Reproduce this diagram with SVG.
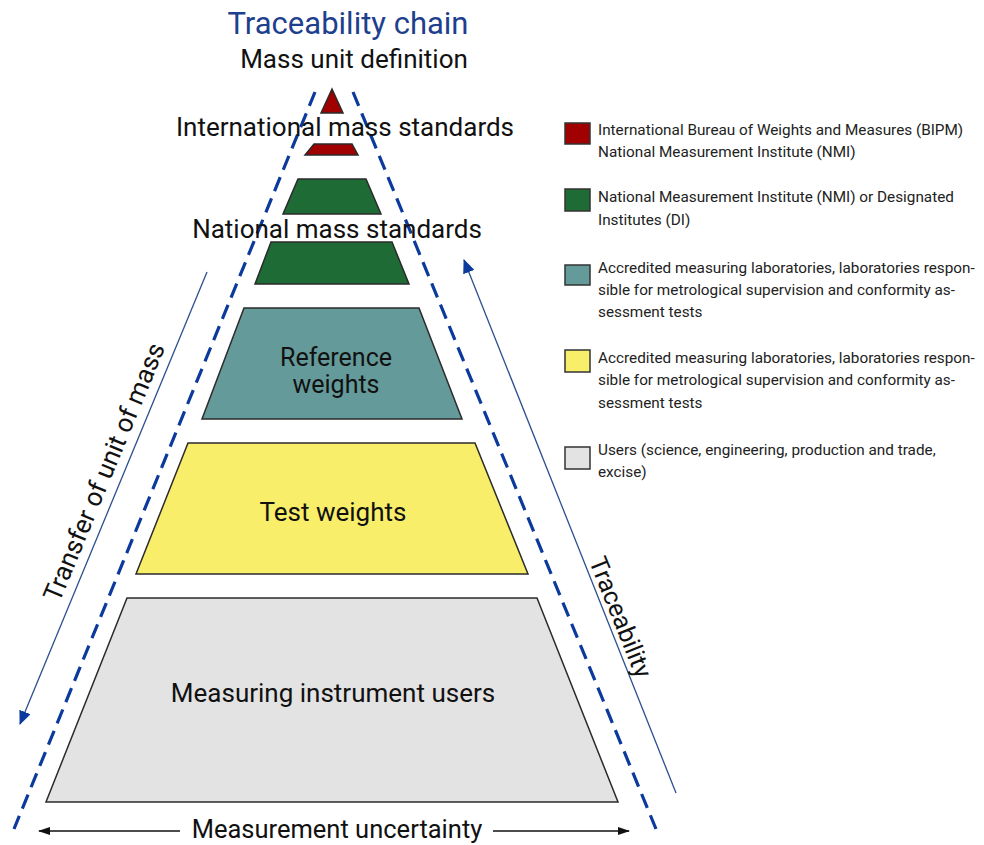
<svg xmlns="http://www.w3.org/2000/svg" width="984" height="845" viewBox="0 0 984 845">
<defs>
<style>
.lbl{font-family:Roboto,"Liberation Sans",sans-serif;fill:#111;text-anchor:middle}
.big{font-size:26px}
.leg{font-family:Roboto,"Liberation Sans",sans-serif;font-size:15.3px;fill:#222}
.tier{stroke:#2b2b2b;stroke-width:1.5;stroke-linejoin:miter}
.dash{fill:none;stroke:#0b3a9c;stroke-width:3.2;stroke-dasharray:15 8}
.thin{fill:none;stroke:#2c4f8f;stroke-width:1.3}
.blk{fill:none;stroke:#111;stroke-width:1.5}
.box{stroke:#333;stroke-width:1.5}
</style>
<marker id="ab" viewBox="0 0 14 12" refX="13" refY="6" markerWidth="14" markerHeight="12" markerUnits="userSpaceOnUse" orient="auto">
<path d="M0,0 L14,6 L0,12 Z" fill="#0b3a9c"/>
</marker>
<marker id="ak" viewBox="0 0 12 8" refX="11" refY="4" markerWidth="12" markerHeight="8" markerUnits="userSpaceOnUse" orient="auto">
<path d="M0,0 L12,4 L0,8 Z" fill="#111"/>
</marker>
</defs>
<rect width="984" height="845" fill="#ffffff"/>

<g id="connectors">
<line class="dash" x1="315" y1="92" x2="14" y2="829"/>
<line class="dash" x1="353" y1="92" x2="656" y2="829"/>
<line class="thin" x1="207" y1="272" x2="20" y2="724" marker-end="url(#ab)"/>
<line class="thin" x1="676" y1="793" x2="464" y2="260" marker-end="url(#ab)"/>
<line class="blk" x1="180" y1="831" x2="39" y2="831" marker-end="url(#ak)"/>
<line class="blk" x1="493" y1="831" x2="629" y2="831" marker-end="url(#ak)"/>
</g>

<g id="title">
<text class="lbl" x="348" y="34" style="font-size:31px;fill:#1e3f8e">Traceability chain</text>
</g>

<g id="mass-unit-definition">
<path class="tier" d="M332,89 L343,113 L321,113 Z" fill="#a00000"/>
<text class="lbl big" x="354" y="68">Mass unit definition</text>
</g>

<g id="international-mass-standards">
<path class="tier" d="M314,144 L352,144 L358,155 L305,155 Z" fill="#a00000"/>
<text class="lbl big" x="345" y="136">International mass standards</text>
</g>

<g id="national-mass-standards">
<path class="tier" d="M298,179 L366,179 L381,214 L283,214 Z" fill="#1e6b35"/>
<path class="tier" d="M271,242 L392,242 L409,284 L255,284 Z" fill="#1e6b35"/>
<text class="lbl big" x="337" y="238">National mass standards</text>
</g>

<g id="reference-weights">
<path class="tier" d="M244,308 L419,308 L462,419 L202,419 Z" fill="#659a9a"/>
<text class="lbl" style="font-size:25px" x="336" y="366">Reference</text>
<text class="lbl" style="font-size:25px" x="336" y="393">weights</text>
</g>

<g id="test-weights">
<path class="tier" d="M188,443 L475,443 L528,574 L136,574 Z" fill="#f8ee6a"/>
<text class="lbl big" x="333" y="521">Test weights</text>
</g>

<g id="measuring-instrument-users">
<path class="tier" d="M127,598 L537,598 L618,802 L46,802 Z" fill="#e3e3e3"/>
<text class="lbl big" x="333" y="702">Measuring instrument users</text>
</g>

<g id="side-labels">
<text class="lbl big" transform="translate(104,472) rotate(-67.5)" y="9">Transfer of unit of mass</text>
<text class="lbl" style="font-size:25px" transform="translate(621,617) rotate(68)" y="9">Traceability</text>
<text class="lbl" style="font-size:25.5px" x="337" y="838">Measurement uncertainty</text>
</g>

<g id="legend">
<rect class="box" x="565" y="123" width="25" height="21" fill="#a00000"/>
<text class="leg" x="598" y="135">International Bureau of Weights and Measures (BIPM)</text>
<text class="leg" x="598" y="157">National Measurement Institute (NMI)</text>
<rect class="box" x="565" y="189" width="25" height="22" fill="#1e6b35"/>
<text class="leg" x="598" y="202">National Measurement Institute (NMI) or Designated</text>
<text class="leg" x="598" y="225">Institutes (DI)</text>
<rect class="box" x="565" y="265" width="25" height="20" fill="#659a9a"/>
<text class="leg" x="598" y="273">Accredited measuring laboratories, laboratories respon-</text>
<text class="leg" x="598" y="295">sible for metrological supervision and conformity as-</text>
<text class="leg" x="598" y="317">sessment tests</text>
<rect class="box" x="565" y="350" width="25" height="22" fill="#f8ee6a"/>
<text class="leg" x="598" y="363">Accredited measuring laboratories, laboratories respon-</text>
<text class="leg" x="598" y="385">sible for metrological supervision and conformity as-</text>
<text class="leg" x="598" y="408">sessment tests</text>
<rect class="box" x="565" y="447" width="25" height="22" fill="#e3e3e3"/>
<text class="leg" x="598" y="455">Users (science, engineering, production and trade,</text>
<text class="leg" x="598" y="477">excise)</text>
</g>
</svg>
